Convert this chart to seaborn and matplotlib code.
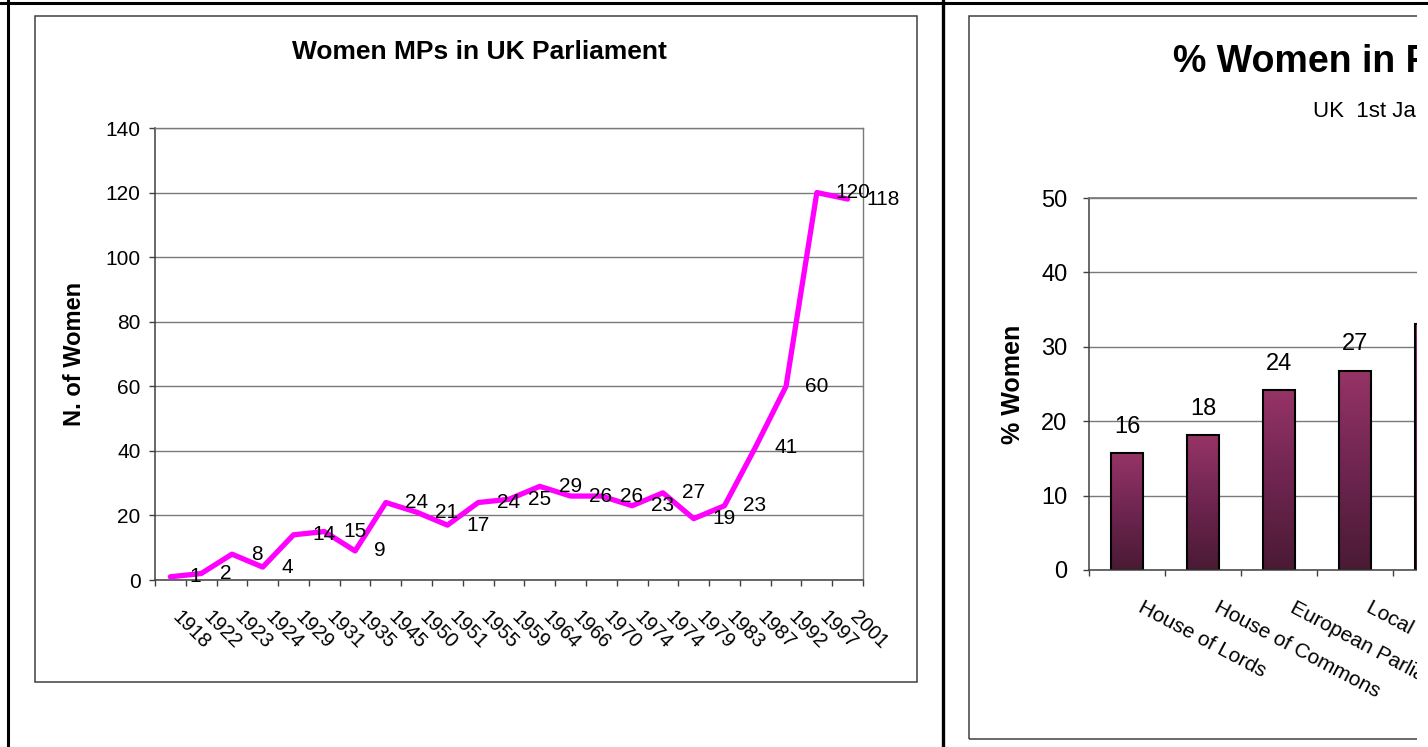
import numpy as np
import pandas as pd
import matplotlib
matplotlib.use("Agg")
import matplotlib.pyplot as plt
import seaborn as sns
from matplotlib.patches import Rectangle
from matplotlib.lines import Line2D
from matplotlib.ticker import FixedLocator, NullFormatter
from matplotlib.colors import LinearSegmentedColormap

# ---------------- data ----------------
election_years = ["1918", "1922", "1923", "1924", "1929", "1931", "1935", "1945",
                  "1950", "1951", "1955", "1959", "1964", "1966", "1970", "1974",
                  "1974", "1979", "1983", "1987", "1992", "1997", "2001"]
women_mps = [1, 2, 8, 4, 14, 15, 9, 24, 21, 17, 24, 25, 29, 26, 26, 23, 27, 19,
             23, 41, 60, 120, 118]

bodies = ["House of Lords", "House of Commons", "European Parliament",
          "Local Councils", "Scottish Parliament"]
pct_women = [15.7, 18.1, 24.2, 26.8, 33.0]

left_title = "Women MPs in UK Parliament"
left_ylabel = "N. of Women"
right_title = "% Women in Politics"
right_subtitle = "UK  1st January 2005"
right_ylabel = "% Women"

# ---------------- setup ----------------
W, H = 1428, 747
sns.set_theme(style="white")
plt.rcParams['font.family'] = ['Liberation Sans', 'DejaVu Sans']
plt.rcParams['text.color'] = 'black'
plt.rcParams['axes.labelcolor'] = 'black'
plt.rcParams['xtick.color'] = 'black'
plt.rcParams['ytick.color'] = 'black'

fig = plt.figure(figsize=(W / 100, H / 100), dpi=100)
fig.patch.set_facecolor("white")


def fx(x):
    return x / W


def fy(y):
    return 1 - y / H


AXC = "#404040"
GRID = "#7a7a7a"

# ---------------- frames ----------------
fig.add_artist(Line2D([0, 1], [fy(2.5), fy(2.5)], transform=fig.transFigure,
                      color="black", lw=2.2))
fig.add_artist(Line2D([fx(8), fx(8)], [0, 1], transform=fig.transFigure,
                      color="black", lw=2.2))
fig.add_artist(Line2D([fx(943), fx(943)], [0, 1], transform=fig.transFigure,
                      color="black", lw=2.4))
fig.add_artist(Rectangle((fx(35), fy(682)), (917 - 35) / W, (682 - 16) / H,
                         fill=False, edgecolor=AXC, lw=1.1,
                         transform=fig.transFigure))
fig.add_artist(Rectangle((fx(969), fy(739)), (1700 - 969) / W, (739 - 16) / H,
                         fill=False, edgecolor=AXC, lw=1.1,
                         transform=fig.transFigure))

# ---------------- left: line chart ----------------
axL = fig.add_axes([fx(155), fy(580), (863 - 155) / W, (580 - 128) / H])
n = len(election_years)
df = pd.DataFrame({"pos": np.arange(n), "women": women_mps})
sns.lineplot(data=df, x="pos", y="women", ax=axL, color="#FF00FF",
             linewidth=3.8, sort=False, estimator=None, zorder=3)
axL.set_xlim(-0.5, n - 0.5)
axL.set_ylim(0, 140)
axL.set_yticks(range(0, 141, 20))
axL.set_xticks(np.arange(n))
axL.xaxis.set_major_formatter(NullFormatter())
axL.xaxis.set_minor_locator(FixedLocator(np.arange(-0.5, n, 1)))
axL.tick_params(axis="x", which="major", length=0)
axL.tick_params(axis="x", which="minor", bottom=True, length=4.5, width=1,
                color=AXC, direction="out")
axL.tick_params(axis="y", left=True, length=4.5, width=1, color=AXC,
                direction="out", pad=6, labelsize=15, labelcolor="black")
for i, yr in enumerate(election_years):
    axL.annotate(yr, (i, 0), xycoords=("data", "axes fraction"),
                 xytext=(1.0, -27.5), textcoords="offset points",
                 rotation=-45, rotation_mode="anchor", ha="left",
                 va="baseline", fontsize=14.5, color="black",
                 annotation_clip=False)
axL.grid(axis="y", color=GRID, lw=1)
axL.grid(axis="x", visible=False)
axL.set_axisbelow(True)
for s in ["left", "bottom"]:
    axL.spines[s].set_color(AXC)
    axL.spines[s].set_linewidth(1.1)
for s in ["top", "right"]:
    axL.spines[s].set_color(GRID)
    axL.spines[s].set_linewidth(1)
axL.set_xlabel("")
axL.set_ylabel(left_ylabel, fontsize=17, fontweight="bold", va="center")
axL.yaxis.set_label_coords((75 - 155) / 708, 0.5)
for i, v in enumerate(women_mps):
    axL.annotate(str(v), (i, v), xytext=(13.5, 0), textcoords="offset points",
                 ha="left", va="center", fontsize=15, color="black",
                 annotation_clip=False, zorder=4)

fig.text(fx(479), fy(52), left_title, ha="center", va="center",
         fontsize=19, fontweight="bold")

# ---------------- right: bar chart ----------------
axR = fig.add_axes([fx(1089), fy(570), 380 / W, (570 - 198) / H])
sns.barplot(x=bodies, y=pct_women, ax=axR, width=0.43, color="#8a2d5c",
            saturation=1, edgecolor="black", linewidth=1.5, zorder=2)
m = len(bodies)

cmap = LinearSegmentedColormap.from_list(
    "maroon", ["#4a1a34", "#6e2550", "#963466"])
grad = np.linspace(0, 1, 256).reshape(-1, 1)
for p in list(axR.patches):
    x0, y0 = p.get_x(), p.get_y()
    w, h = p.get_width(), p.get_height()
    im = axR.imshow(grad, extent=[x0, x0 + w, y0, y0 + h], aspect="auto",
                    cmap=cmap, origin="lower", zorder=2.1)
    im.set_clip_path(p)
    p.set_facecolor("none")
    p.set_zorder(2.2)
axR.set_xlim(-0.5, m - 0.5)
axR.set_ylim(0, 50)
axR.set_yticks(range(0, 51, 10))

axR.set_xticks(np.arange(m))
axR.xaxis.set_major_formatter(NullFormatter())
axR.xaxis.set_minor_locator(FixedLocator(np.arange(-0.5, m, 1)))
axR.tick_params(axis="x", which="major", length=0)
axR.tick_params(axis="x", which="minor", bottom=True, length=4.5, width=1,
                color=AXC, direction="out")
axR.tick_params(axis="y", left=True, length=4.5, width=1, color=AXC,
                direction="out", pad=11, labelsize=17, labelcolor="black")
for i, b in enumerate(bodies):
    axR.annotate(b, (i, 0), xycoords=("data", "axes fraction"),
                 xytext=(7.2, -29.5), textcoords="offset points",
                 rotation=-28, rotation_mode="anchor", ha="left",
                 va="baseline", fontsize=15, color="black",
                 annotation_clip=False)
axR.grid(axis="y", color=GRID, lw=1)
axR.grid(axis="x", visible=False)
axR.set_axisbelow(True)
for s in ["left", "bottom"]:
    axR.spines[s].set_color(AXC)
    axR.spines[s].set_linewidth(1.1)
axR.spines["top"].set_color(GRID)
axR.spines["right"].set_visible(False)
axR.set_xlabel("")
axR.set_ylabel(right_ylabel, fontsize=18, fontweight="bold", va="center")
axR.yaxis.set_label_coords((1013 - 1089) / 380, 0.5)
for i, v in enumerate(pct_women):
    axR.annotate(f"{round(v)}", (i, v), xytext=(0, 19), textcoords="offset points",
                 ha="center", va="center", fontsize=17, color="black",
                 annotation_clip=False)

fig.text(fx(1173), fy(62), right_title, ha="left", va="center",
         fontsize=27, fontweight="bold")
fig.text(fx(1313), fy(112), right_subtitle, ha="left", va="center",
         fontsize=16)

# the source capture is clipped just before the right edge
fig.add_artist(Rectangle((fx(1416.5), 0), (1430 - 1416.5) / W, fy(5),
                         facecolor="white", edgecolor="none",
                         transform=fig.transFigure, zorder=10))

fig.savefig("out.png", dpi=100, facecolor="white")
